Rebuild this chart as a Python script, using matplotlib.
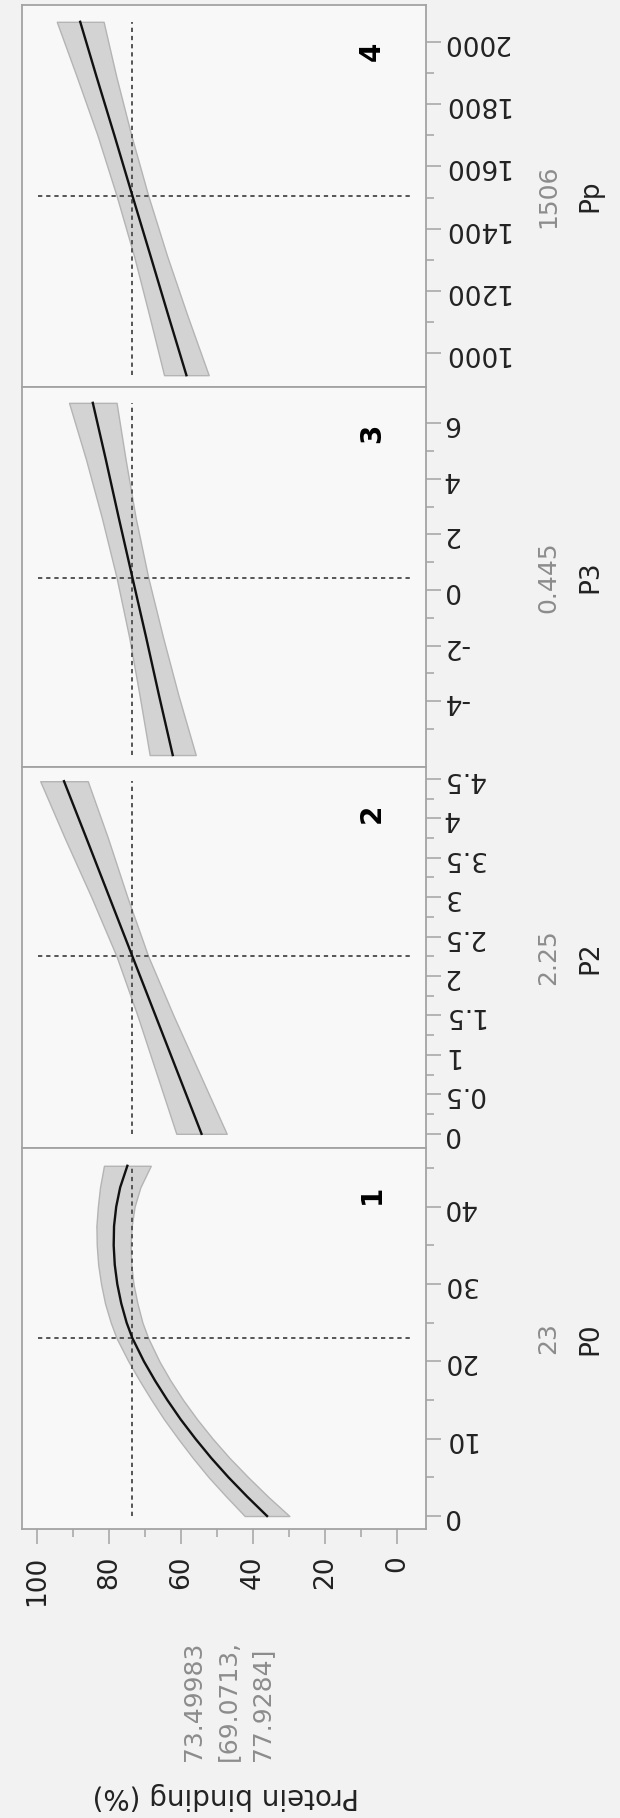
import numpy as np
import matplotlib.pyplot as plt

y_now_txt = '73.49983'
y_ci_txt = ['69.0713', '77.9284']
y_now = 73.49983

p0_now = 23
p0_x = [0, 2.5, 5, 7.5, 10, 12.5, 15, 17.5, 20, 23, 25, 27.5, 30, 32.5, 35, 37.5, 40, 42.5, 45.3]
p0_fit = [36.1, 41.6, 46.8, 51.6, 56.0, 60.1, 63.8, 67.2, 70.3, 73.5, 75.1, 76.6, 77.7, 78.4,
          78.7, 78.6, 78.0, 76.9, 74.9]
p0_lo = [29.9, 35.8, 41.3, 46.5, 51.2, 55.5, 59.4, 62.9, 66.0, 69.1, 70.7, 72.1, 73.2, 73.8,
         74.0, 73.7, 72.9, 71.3, 68.4]
p0_hi = [42.3, 47.4, 52.3, 56.7, 60.8, 64.7, 68.2, 71.5, 74.6, 77.9, 79.5, 81.1, 82.2, 83.0,
         83.4, 83.5, 83.1, 82.5, 81.4]
p0_ticks = [0, 10, 20, 30, 40]
p0_minor = [5, 15, 25, 35, 45]

p2_now = 2.25
p2_x = [0, 0.75, 1.5, 2.25, 3.0, 3.75, 4.47]
p2_fit = [54.3, 60.7, 67.1, 73.5, 79.9, 86.3, 92.5]
p2_lo = [47.3, 54.7, 62.1, 69.1, 74.9, 80.3, 85.9]
p2_hi = [61.3, 66.7, 72.1, 77.9, 84.9, 92.3, 99.1]
p2_ticks = [0, 0.5, 1, 1.5, 2, 2.5, 3, 3.5, 4, 4.5]
p2_minor = [0.25, 0.75, 1.25, 1.75, 2.25, 2.75, 3.25, 3.75, 4.25]

p3_now = 0.445
p3_x = [-5.94, -3.8, -1.7, 0.445, 2.6, 4.7, 6.73]
p3_fit = [62.3, 66.1, 69.7, 73.5, 77.3, 80.9, 84.5]
p3_lo = [55.9, 60.7, 65.0, 69.1, 72.6, 75.4, 77.9]
p3_hi = [68.7, 71.5, 74.4, 77.9, 82.0, 86.4, 91.1]
p3_ticks = [-4, -2, 0, 2, 4, 6]
p3_minor = [-5, -3, -1, 1, 3, 5]

pp_now = 1506
pp_x = [929, 1120, 1310, 1506, 1700, 1890, 2065]
pp_fit = [58.5, 63.5, 68.4, 73.5, 78.5, 83.5, 88.0]
pp_lo = [52.3, 58.2, 63.8, 69.1, 73.8, 78.0, 81.5]
pp_hi = [64.7, 68.8, 73.0, 77.9, 83.2, 89.0, 94.5]
pp_ticks = [1000, 1200, 1400, 1600, 1800, 2000]
pp_minor = [1100, 1300, 1500, 1700, 1900]

resp_ticks = [0, 20, 40, 60, 80, 100]
resp_minor = [10, 30, 50, 70, 90]

# --- Layout (pixels of the 620 x 1818 picture) ---
W, H = 620, 1818
fig = plt.figure(figsize=(W / 100, H / 100), dpi=100, facecolor='#f2f2f2')

def fx(px):
    return px / W

def fy(py):
    return 1 - py / H

left, right = 21.7, 425.7
grid = '#a3a3a3'
dots = (0, (2.2, 2.0))

panels = [
    ('Pp', pp_now, pp_x, pp_fit, pp_lo, pp_hi, (891, 2119), pp_ticks, pp_minor, 5, 387, '4'),
    ('P3', p3_now, p3_x, p3_fit, p3_lo, p3_hi, (-6.37, 7.3), p3_ticks, p3_minor, 387, 767, '3'),
    ('P2', p2_now, p2_x, p2_fit, p2_lo, p2_hi, (-0.18, 4.65), p2_ticks, p2_minor, 767, 1148, '2'),
    ('P0', p0_now, p0_x, p0_fit, p0_lo, p0_hi, (-1.68, 47.6), p0_ticks, p0_minor, 1148, 1529, '1'),
]

for name, now, x, fit, lo, hi, lim, ticks, minor, top, bot, tag in panels:
    ax = fig.add_axes([fx(left), fy(bot), (right - left) / W, (bot - top) / H])
    ax.set_facecolor('#f8f8f8')
    ax.fill_betweenx(x, lo, hi, facecolor='#d3d3d3', edgecolor='#b4b4b4', lw=1.0, zorder=1)
    ax.plot(fit, x, color='#111111', lw=1.7, zorder=3)
    ax.plot([y_now, y_now], [x[0], x[-1]], color='#555555', lw=1.4, ls=dots, zorder=2)
    ax.plot([99.7, -4.2], [now, now], color='#555555', lw=1.4, ls=dots, zorder=2)
    ax.set_xlim(104.25, -7.97)
    ax.set_ylim(lim)

    ax.yaxis.tick_right()
    ax.set_yticks(ticks)
    ax.set_yticks(minor, minor=True)
    ax.set_yticklabels([f'{v:g}' for v in ticks], rotation=180, va='center')
    ax.tick_params(axis='y', which='major', length=11, width=1.1, color=grid,
                   labelsize=19, pad=1, labelcolor='#222222')
    ax.tick_params(axis='y', which='minor', length=6, width=1.1, color=grid)

    if name == 'P0':
        ax.set_xticks(resp_ticks)
        ax.set_xticks(resp_minor, minor=True)
        ax.set_xticklabels([str(v) for v in resp_ticks], rotation=90)
        ax.tick_params(axis='x', which='major', length=11, width=1.1, color=grid,
                       labelsize=19, pad=8, labelcolor='#222222')
        ax.tick_params(axis='x', which='minor', length=6, width=1.1, color=grid)
    else:
        ax.set_xticks([])

    for s in ax.spines.values():
        s.set_color(grid)
        s.set_linewidth(1.3)

    mid = (top + bot) / 2
    fig.text(fx(548), fy(mid), f'{now:g}', rotation=90, ha='center', va='center',
             fontsize=18, color='#8c8c8c')
    fig.text(fx(590), fy(mid), name, rotation=90, ha='center', va='center',
             fontsize=19, color='#222222')
    fig.text(fx(372), fy(top + 46), tag, rotation=90, ha='center', va='center',
             fontsize=20, fontweight='bold', color='black')

fig.text(fx(228), fy(1700), f'{y_now_txt}\n[{y_ci_txt[0]},\n{y_ci_txt[1]}]', rotation=90,
         ha='center', va='center', multialignment='left', linespacing=1.55,
         fontsize=18, color='#8c8c8c')
fig.text(fx(226), fy(1796), 'Protein binding (%)', rotation=180, ha='center', va='center',
         fontsize=20, color='#222222')

fig.savefig('out.png', dpi=100, facecolor=fig.get_facecolor())
